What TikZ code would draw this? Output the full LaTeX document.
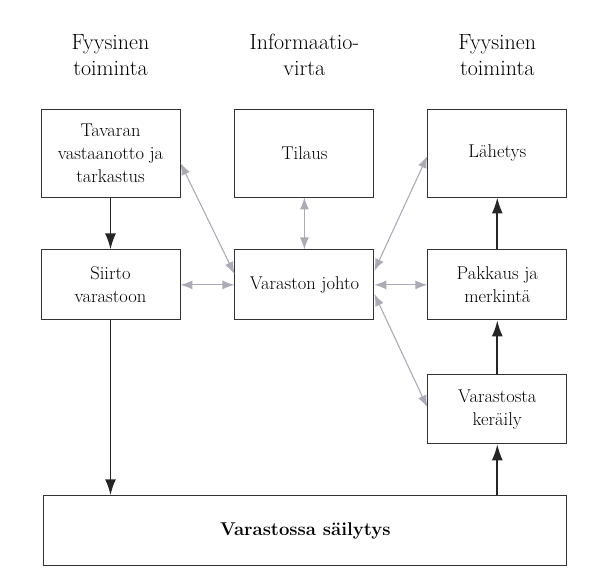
\documentclass[tikz,border=0pt]{standalone}
\usepackage{fontspec}
\usetikzlibrary{positioning,arrows.meta}

\begin{document}
\begin{tikzpicture}[x=1pt,y=1pt,node distance=53pt,
    box/.style={draw=black!80, line width=0.9pt, minimum width=139pt, align=center,
      inner sep=2pt, font=\fontsize{18.5}{23}\selectfont},
    head/.style={align=center, inner sep=0pt, font=\fontsize{22}{26}\selectfont},
    flow/.style={-{Latex[length=16pt,width=11pt]}, line width=1.8pt, black!85},
    info/.style={{Latex[length=12pt,width=9pt]}-{Latex[length=12pt,width=9pt]},
      line width=1.1pt, black!30!blue!10!gray!60}]
    \useasboundingbox (0,0) rectangle (590,-586);
    % upper row
    \node[box, minimum height=88pt] (tavaran) at (110.5,-153) {Tavaran\\vastaanotto ja\\tarkastus};
    \node[box, minimum height=88pt] (tilaus)  [right=54pt of tavaran] {Tilaus};
    \node[box, minimum height=88pt] (lahetys) [right=of tilaus]       {Lähetys};
    % headings
    \node[head] (fyys1) [above=33pt of tavaran] {Fyysinen\\toiminta};
    \node[head] (infov) [above=33pt of tilaus]  {Informaatio-\\virta};
    \node[head] (fyys2) [above=33pt of lahetys] {Fyysinen\\toiminta};
    % middle row
    \node[box, minimum height=70pt] (siirto)  [below=52pt of tavaran] {Siirto\\varastoon};
    \node[box, minimum height=70pt] (johto)   [below=52pt of tilaus]  {Varaston johto};
    \node[box, minimum height=70pt] (pakkaus) [below=52pt of lahetys] {Pakkaus ja\\merkintä};
    \node[box, minimum height=69pt] (keraily) [below=54pt of pakkaus] {Varastosta\\keräily};
    % storage
    \node[box, minimum width=523pt, minimum height=70pt, font=\fontsize{18.5}{23}\selectfont\bfseries]
      (sailytys) [below=51pt of keraily.south east, anchor=north east] {Varastossa säilytys};
    % physical flow
    \draw[flow] (tavaran) -- (siirto);
    \draw[flow] (siirto) -- (siirto.south |- sailytys.north);
    \draw[flow] (sailytys.north -| keraily) -- (keraily);
    \draw[flow] (keraily) -- (pakkaus);
    \draw[flow] (pakkaus) -- (lahetys);
    % information flow
    \draw[info] ([yshift=-10pt]tavaran.east) -- ([yshift=11pt]johto.west);
    \draw[info] (siirto) -- (johto);
    \draw[info] (tilaus) -- (johto);
    \draw[info] ([yshift=14pt]johto.east) -- ([yshift=-3pt]lahetys.west);
    \draw[info] (johto) -- (pakkaus);
    \draw[info] ([yshift=-9pt]johto.east) -- ([yshift=2pt]keraily.west);
\end{tikzpicture}
\end{document}
